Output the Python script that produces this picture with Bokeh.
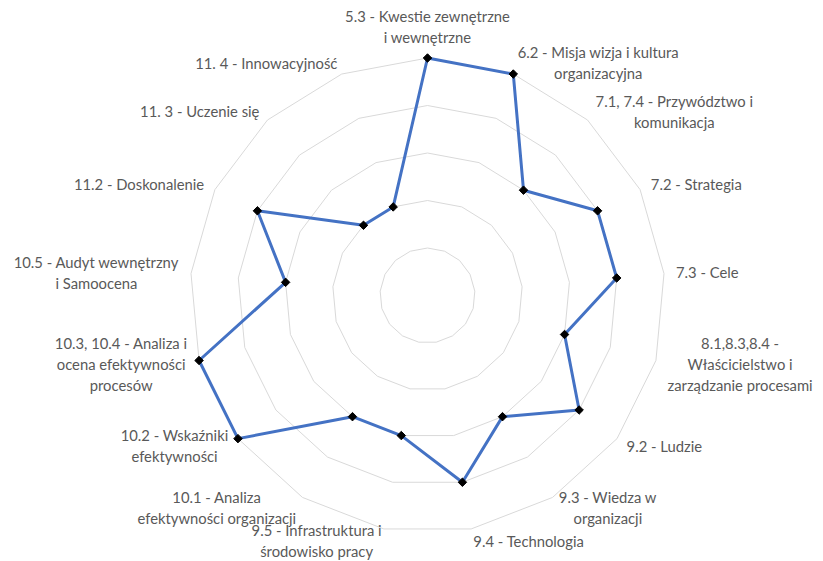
import numpy as np
from bokeh.plotting import figure
from bokeh.models import Range1d
from bokeh.core.properties import value
from bokeh.embed import file_html
from bokeh.resources import INLINE

categories = [
    "5.3 - Kwestie zewnętrzne\ni wewnętrzne",
    "6.2 - Misja wizja i kultura\norganizacyjna",
    "7.1, 7.4 - Przywództwo i\nkomunikacja",
    "7.2 - Strategia",
    "7.3 - Cele",
    "8.1,8.3,8.4 -\nWłaścicielstwo i\nzarządzanie procesami",
    "9.2 - Ludzie",
    "9.3 - Wiedza w\norganizacji",
    "9.4 - Technologia",
    "9.5 - Infrastruktura i\nśrodowisko pracy",
    "10.1 - Analiza\nefektywności organizacji",
    "10.2 - Wskaźniki\nefektywności",
    "10.3, 10.4 - Analiza i\nocena efektywności\nprocesów",
    "10.5 - Audyt wewnętrzny\ni Samoocena",
    "11.2 - Doskonalenie",
    "11. 3 - Uczenie się",
    "11. 4 - Innowacyjność",
]
scores = [5, 5, 3, 4, 4, 3, 4, 3, 4, 3, 3, 5, 5, 3, 4, 2, 2]
ring_levels = [1, 2, 3, 4, 5]
max_value = 5

W, H = 823, 561
CX, CY = 427, 295          # centre in pixels
PX = 47.5                  # pixels per unit
N = len(categories)
theta = np.arange(N) * 2 * np.pi / N

p = figure(width=W, height=H,
           x_range=Range1d(-CX / PX, (W - CX) / PX),
           y_range=Range1d(-(H - CY) / PX, CY / PX),
           x_axis_type=None, y_axis_type=None,
           output_backend="svg", toolbar_location=None,
           min_border=0, min_border_left=0, min_border_right=0,
           min_border_top=0, min_border_bottom=0)
p.grid.visible = False
p.outline_line_color = None
p.background_fill_color = "white"
p.border_fill_color = "white"

# grid rings
tc = np.append(theta, theta[0])
for lv in ring_levels:
    p.line(lv * np.sin(tc), lv * np.cos(tc), line_color="#d9d9d9", line_width=1)

# data polygon
sv = np.array(scores + scores[:1], dtype=float)
p.line(sv * np.sin(tc), sv * np.cos(tc), line_color="#4472C4", line_width=3,
       line_join="round")
p.scatter(np.array(scores) * np.sin(theta), np.array(scores) * np.cos(theta),
          marker="square", size=6, angle=np.pi / 4,
          fill_color="black", line_color="black", line_width=1)

# labels
lr = max_value + 12 / PX
groups = {}
for i, lab in enumerate(categories):
    s, c = np.sin(theta[i]), np.cos(theta[i])
    if c > 0.999:
        anchor = "bottom_center"
    elif s > 0.01:
        anchor = "center_left"
    elif s < -0.01:
        anchor = "center_right"
    else:
        anchor = "top_center"
    g = groups.setdefault(anchor, {"x": [], "y": [], "t": []})
    g["x"].append(lr * s)
    g["y"].append(lr * c)
    g["t"].append(lab)

for anchor, g in groups.items():
    p.text(x=g["x"], y=g["y"], text=g["t"], anchor=anchor,
           text_align="center", text_baseline="middle",
           text_font=value("Lato"), text_font_size="14.8px", text_color="#595959",
           text_line_height=1.17)

open("out.html", "w").write(file_html(p, INLINE))
